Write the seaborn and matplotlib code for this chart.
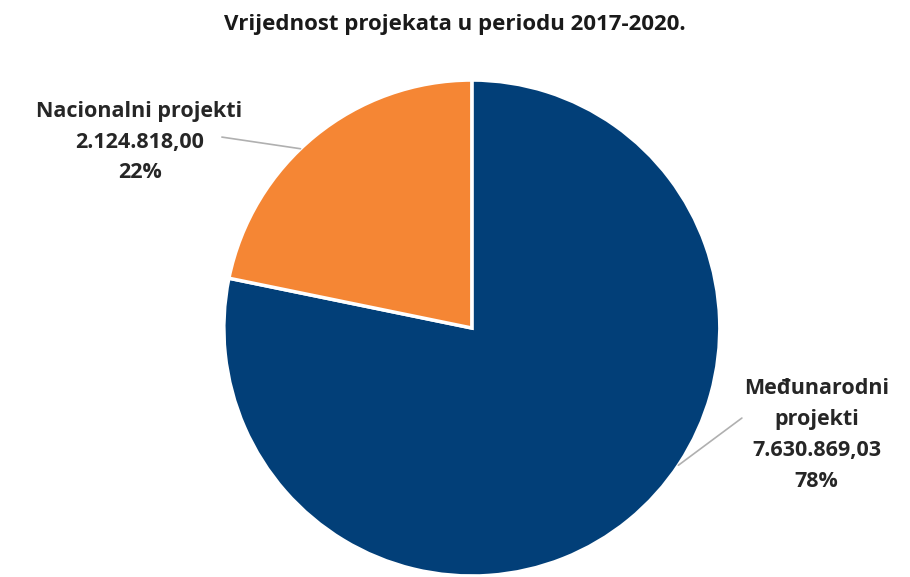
import matplotlib
matplotlib.use("Agg")
import matplotlib.pyplot as plt
import seaborn as sns
import numpy as np

# ---------------- DATA ----------------
categories = ["Međunarodni\nprojekti", "Nacionalni projekti"]
values = [7630869.03, 2124818.00]
value_labels = ["7.630.869,03", "2.124.818,00"]
colors = ["#023f78", "#f58634"]
title = "Vrijednost projekata u periodu 2017-2020."

sns.set_theme(style="white")
plt.rcParams["font.family"] = ["Open Sans", "DejaVu Sans"]

fig = plt.figure(figsize=(9.1, 5.77), dpi=100)
ax = fig.add_axes([0.246, 0.0017, 0.545, 0.8596])

wedges, _ = ax.pie(values, colors=colors, startangle=90, counterclock=False,
                   wedgeprops=dict(edgecolor="white", linewidth=2.5))
ax.set_aspect("equal")
ax.set_xlim(-1, 1)
ax.set_ylim(-1, 1)

total = sum(values)
pcts = [f"{round(v / total * 100)}%" for v in values]

# leader line anchors on the wedge edge (degrees), label positions (data coords)
anchors = [-33.6, 133.7]
label_pos = [(1.39, -0.43), (-1.34, 0.75)]
line_end = [(1.089, -0.363), (-1.008, 0.77)]

for i in range(len(values)):
    a = np.deg2rad(anchors[i])
    xy = (np.cos(a), np.sin(a))
    ax.plot([xy[0], line_end[i][0]], [xy[1], line_end[i][1]],
            color="#b0b0b0", lw=1.2, clip_on=False)
    ax.text(label_pos[i][0], label_pos[i][1],
            f"{categories[i]}\n{value_labels[i]}\n{pcts[i]}",
            ha="center", va="center", fontsize=15.5, fontweight="bold",
            color="#262626", linespacing=1.62, clip_on=False)

fig.text(0.5, 0.958, title, ha="center", va="center",
         fontsize=16, fontweight="bold", color="#1a1a1a")

fig.savefig("out.png", dpi=100)
